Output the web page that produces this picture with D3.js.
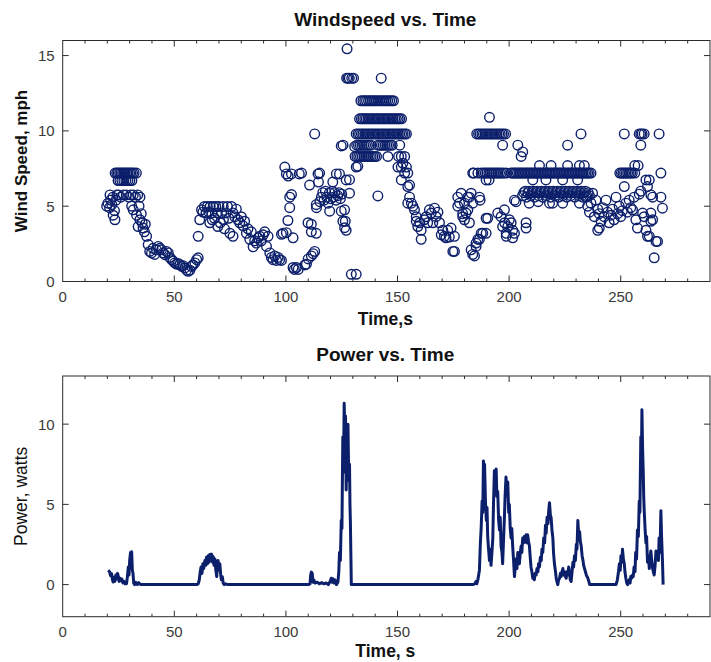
<!DOCTYPE html>
<html>
<head>
<meta charset="utf-8">
<script src="https://cdn.jsdelivr.net/npm/d3@7"></script>
<style>
  body { margin: 0; background: #fff; }
  svg { display: block; font-family: "Liberation Sans", Arial, sans-serif; }
</style>
</head>
<body>
<svg class="windpower" width="711" height="662"></svg>
<script>
// wind speed samples: [time s, speed mph]
const windSamples = [
  [19.7,5.0],[20.3,5.2],[21.0,4.9],[21.5,5.4],[22.0,5.1],[22.6,4.4],[23.2,4.7],[23.4,4.1],[23.9,5.4],[24.3,5.75],
  [23.5,7.2],[24.2,7.2],[24.8,7.2],[25.5,7.2],[26.1,7.2],[26.8,7.2],[27.4,7.2],[28.0,7.2],[28.7,7.2],[29.3,7.2],[30.0,7.2],[30.6,7.2],[31.3,7.2],[32.0,7.2],[33.0,7.2],
  [24.8,6.7],[25.6,6.7],[26.5,6.7],[27.4,6.7],[28.3,6.7],[29.2,6.7],[30.1,6.7],[31.0,6.7],
  [21.2,5.75],[22.5,5.6],[25.0,5.75],[26.0,5.6],[27.2,5.75],[28.5,5.75],[29.6,5.6],[30.5,5.75],[31.6,5.75],[32.6,5.6],[33.6,5.75],[34.6,5.6],
  [30.9,5.0],[31.6,4.76],[33.1,4.4],[34.2,5.0],[34.6,4.1],[33.8,3.65],[35.2,4.5],[35.6,3.9],[36.0,3.55],[36.6,3.3],[37.0,3.8],[37.6,3.0],[38.3,2.45],[39.0,2.0],[39.8,1.9],[40.5,2.2],[41.2,1.8],
  [42.0,2.1],[42.8,2.33],[43.5,2.2],[44.3,2.1],[45.0,1.9],[45.8,1.78],[46.5,2.0],[47.3,1.9],[48.0,1.6],[48.8,1.45],[49.5,1.35],[50.2,1.23],[51.0,1.15],[51.8,1.2],[52.5,1.12],[53.3,1.0],[54.0,1.05],[54.7,0.9],[55.5,0.75],[56.2,0.68],[57.0,0.75],[57.7,1.0],[58.4,1.1],[59.2,1.23],[60.0,1.45],[60.7,1.57],
  [60.7,3.0],[61.4,4.1],[62.2,4.76],[62.8,4.6],[63.5,4.98],[64.2,4.55],[64.8,4.98],[65.5,4.6],[66.1,4.98],[66.8,4.55],[67.4,4.98],[68.0,4.2],[68.6,4.98],[69.3,4.55],[70.0,4.98],[70.6,3.9],[71.2,4.55],[71.9,4.98],[72.5,3.5],[73.1,4.55],[73.8,4.98],[74.4,4.2],[74.9,3.2],[75.6,4.98],[76.3,4.55],[76.3,3.0],[65.9,3.9],[67.0,4.1],[69.5,3.65],[72.0,4.1],
  [77.1,4.3],[77.8,4.8],[78.5,4.1],[79.3,3.9],[80.0,4.3],[80.8,3.7],[81.5,4.0],[82.3,3.2],[83.0,3.5],[83.8,2.8],[84.5,3.3],[85.3,2.3],[86.0,2.7],[86.8,2.55],[87.5,2.9],[88.3,3.0],[89.0,2.7],[89.8,3.1],[90.5,3.3],[91.3,2.33],[92.0,3.0],[92.8,1.9],[93.5,1.6],[94.2,1.45],[95.0,1.7],[95.8,1.4],[96.5,1.6],[97.2,1.45],[98.0,1.4],
  [98.0,3.13],[98.7,3.2],[99.5,7.6],[100.2,7.14],[101.0,7.0],[102.5,7.14],[106.0,7.14],[100.2,3.24],[100.9,4.05],[101.7,4.9],[101.7,5.6],[102.5,5.77],[103.2,2.9],[103.2,0.93],[103.8,0.8],[104.7,0.93],[105.5,0.8],[107.0,7.2],[108.5,1.1],[109.2,1.15],[110.0,1.5],[110.6,6.4],[109.9,3.9],[111.4,3.8],[111.4,1.7],[111.4,3.3],[112.2,1.85],[112.9,2.0],[112.9,9.8],[113.6,3.2],[113.6,5.1],[113.7,4.9],
  [114.4,7.14],[115.1,7.2],[114.6,6.6],[115.2,5.3],[115.9,5.6],[116.5,5.9],[117.1,5.4],[117.7,6.0],[118.3,5.6],[118.9,5.2],[119.5,5.9],[119.6,4.67],[120.1,5.5],[120.7,6.0],[121.3,5.6],[121.0,6.6],[121.9,5.9],[122.5,5.4],[122.6,7.14],[123.2,5.7],[123.8,5.9],[124.0,7.14],[124.4,5.5],[125.0,5.8],[124.8,4.67],[124.8,9.0],[125.5,4.0],[125.6,9.05],[126.3,3.57],[126.3,4.76],[127.0,6.74],[127.0,3.4],[126.6,4.0],[128.5,5.86],[128.5,6.76],
  [127.4,15.45],[127.2,13.5],[127.8,13.5],[128.4,13.5],[129.5,13.5],[130.3,13.5],[129.3,0.48],[131.5,0.48],[142.7,13.5],
  [133.6,12.0],[134.5,12.0],[135.3,12.0],[136.1,12.0],[137.0,12.0],[137.8,12.0],[138.6,12.0],[139.4,12.0],[140.3,12.0],[141.2,12.0],[142.1,12.0],[143.0,12.0],[143.9,12.0],[144.8,12.0],[145.6,12.0],[146.5,12.0],[147.4,12.0],[148.2,12.0],
  [133.0,10.8],[133.8,10.8],[134.5,10.8],[135.3,10.8],[136.0,10.8],[136.8,10.8],[137.5,10.8],[138.3,10.8],[139.0,10.8],[139.8,10.8],[140.5,10.8],[141.3,10.8],[142.0,10.8],[142.8,10.8],[143.5,10.8],[144.3,10.8],[145.0,10.8],[145.8,10.8],[146.5,10.8],[147.3,10.8],[148.0,10.8],[148.8,10.8],[149.5,10.8],[150.3,10.8],[151.0,10.8],[151.8,10.8],
  [131.5,9.8],[132.3,9.8],[133.0,9.8],[133.8,9.8],[134.5,9.8],[135.3,9.8],[136.0,9.8],[136.8,9.8],[137.5,9.8],[138.3,9.8],[139.0,9.8],[139.8,9.8],[140.5,9.8],[141.3,9.8],[142.0,9.8],[142.8,9.8],[143.5,9.8],[144.3,9.8],[145.0,9.8],[145.8,9.8],[146.5,9.8],[147.3,9.8],[148.0,9.8],[148.8,9.8],[149.5,9.8],[150.3,9.8],[151.0,9.8],[151.8,9.8],[152.5,9.8],[153.3,9.8],[154.0,9.8],
  [130.8,8.95],[131.7,9.05],[132.5,9.05],[133.3,9.05],[134.1,9.05],[134.9,9.05],[135.7,9.05],[136.5,9.05],[137.3,9.05],[138.1,9.05],[141.2,9.05],[142.0,9.05],[142.8,9.05],[143.6,9.05],[144.4,9.05],[145.2,9.05],[146.0,9.05],[146.8,9.05],[147.6,9.05],[151.0,9.05],
  [131.0,8.3],[131.8,8.3],[132.6,8.3],[133.4,8.3],[134.2,8.3],[135.0,8.3],[135.8,8.3],[136.6,8.3],[137.4,8.3],[138.2,8.3],[139.0,8.3],[139.8,8.3],[140.6,8.3],[145.7,8.3],[150.5,8.3],[151.7,8.3],[153.2,8.3],
  [131.5,7.6],[132.2,7.65],[150.2,7.6],[151.7,7.6],[154.0,7.6],[141.2,5.68],
  [152.4,7.85],[153.2,7.2],[154.6,7.2],[151.7,6.74],[154.6,6.3],[155.4,6.4],[155.4,5.6],[154.6,5.2],[156.2,5.2],[156.9,5.0],[157.6,4.76],[158.4,4.3],[158.4,4.0],[159.1,3.65],[160.0,3.9],[160.6,3.4],[160.6,2.8],
  [162.0,4.1],[162.9,4.3],[163.5,3.9],[164.3,4.76],[165.1,4.54],[165.8,3.9],[166.6,4.87],[167.3,4.3],[168.1,4.6],[168.8,3.9],[169.6,3.1],[170.3,3.4],[171.0,3.0],[171.7,2.9],[172.5,3.4],[173.2,2.95],[174.0,3.55],[174.8,2.0],[175.5,3.0],[175.5,2.0],
  [177.0,5.0],[177.0,5.6],[177.8,5.2],[178.5,5.86],[179.2,4.5],[179.2,4.3],[180.0,5.2],[180.0,4.1],[180.7,4.54],[181.5,5.6],[181.5,4.76],[182.2,5.6],[182.2,3.9],[183.0,5.86],[183.7,5.2],[183.7,7.2],[183.0,2.1],[183.7,1.8],[184.5,1.7],[185.2,2.55],[185.2,2.33],[186.0,2.8],[186.7,2.8],[186.7,5.6],[187.0,5.4],[187.5,3.2],[188.2,3.2],[189.7,4.2],[189.7,3.2],[190.4,4.2],
  [185.5,9.8],[186.3,9.8],[187.0,9.8],[187.8,9.8],[188.5,9.8],[189.3,9.8],[190.0,9.8],[190.8,9.8],[191.5,9.8],[192.3,9.8],[193.0,9.8],[193.8,9.8],[194.5,9.8],[195.3,9.8],[196.0,9.8],[196.8,9.8],[197.5,9.8],[198.4,9.8],[191.2,10.9],[197.1,9.05],
  [184.2,7.2],[186.0,7.2],[187.5,7.2],[188.5,7.2],[189.3,7.2],[190.1,7.2],[190.9,7.2],[191.7,7.2],[192.5,7.2],[193.3,7.2],[194.1,7.2],[194.9,7.2],[195.7,7.2],[196.5,7.2],[197.5,7.2],[198.7,7.2],[189.7,6.74],[191.0,6.74],
  [194.9,4.54],[196.4,4.3],[197.9,4.76],[197.1,3.65],[198.0,3.9],[198.7,3.2],[198.7,3.0],[199.4,3.65],[200.1,4.1],[200.9,3.9],[201.6,3.4],[201.6,2.9],[202.4,3.2],[203.1,5.3],[202.4,5.4],[203.9,9.05],[205.4,8.3],[206.1,8.6],[207.6,3.55],[207.6,3.9],
  [200.9,7.2],[201.6,7.2],[202.3,7.2],[203.0,7.2],[203.7,7.2],[204.4,7.2],[205.1,7.2],[205.8,7.2],[206.5,7.2],[207.2,7.2],[207.9,7.2],[208.6,7.2],[209.3,7.2],[210.0,7.2],[210.7,7.2],[211.4,7.2],[212.1,7.2],[212.8,7.2],[213.5,7.2],[214.2,7.2],[214.9,7.2],[215.6,7.2],[216.3,7.2],[217.0,7.2],[217.7,7.2],[218.4,7.2],[219.1,7.2],[219.8,7.2],[220.5,7.2],[221.2,7.2],[221.9,7.2],[222.6,7.2],[223.3,7.2],[224.0,7.2],[224.7,7.2],[225.4,7.2],[226.1,7.2],[226.8,7.2],[227.5,7.2],[228.2,7.2],[228.9,7.2],[229.6,7.2],[230.3,7.2],[231.0,7.2],[231.7,7.2],[232.4,7.2],[233.1,7.2],[233.8,7.2],[234.5,7.2],[235.2,7.2],[235.9,7.2],[236.7,7.2],
  [213.6,7.7],[218.8,7.7],[226.2,7.7],[231.5,7.7],[233.7,7.7],[226.2,9.05],[232.2,9.8],
  [210.6,6.74],[216.5,6.74],[224.0,6.74],[230.7,6.74],
  [206.0,5.7],[206.6,5.9],[207.2,6.0],[207.8,5.6],[208.4,5.9],[209.0,6.0],[209.6,5.7],[210.2,5.9],[210.8,6.0],[211.4,5.6],[212.0,5.9],[212.6,6.0],[213.2,5.7],[213.8,5.9],[214.4,6.0],[215.0,5.6],[215.6,5.9],[216.2,6.0],[216.8,5.7],[217.4,5.9],[218.0,6.0],[218.6,5.6],[219.2,5.9],[219.8,6.0],[220.4,5.7],[221.0,5.9],[221.6,6.0],[222.2,5.6],[222.8,5.9],[223.4,6.0],[224.0,5.7],[224.6,5.9],[225.2,6.0],[225.8,5.6],[226.4,5.9],[227.0,6.0],[227.6,5.7],[228.2,5.9],[228.8,6.0],[229.4,5.6],[230.0,5.9],[230.6,6.0],[231.2,5.7],[231.8,5.9],[232.4,6.0],[233.0,5.6],[233.6,5.9],[234.2,6.0],[234.8,5.7],[235.4,5.9],[236.0,5.7],
  [209.0,5.2],[213.0,5.3],[219.5,5.2],[224.0,5.2],[231.5,5.2],[218.1,5.2],
  [234.4,5.6],[235.2,5.0],[236.0,4.6],[236.7,5.2],[237.4,5.86],[238.2,4.3],[238.9,5.4],[239.7,3.4],[239.7,4.8],[240.4,3.55],[240.4,4.5],[241.2,4.0],[241.9,4.9],[242.6,4.3],[243.4,5.4],[244.1,4.6],[244.8,3.9],[245.6,4.4],[246.3,4.8],[247.0,4.1],[247.9,5.6],[248.6,4.5],[249.3,5.0],[250.0,4.3],[250.8,4.7],[251.6,6.3],[252.3,5.2],[253.0,4.6],[253.8,5.4],[254.5,4.9],[255.3,4.76],[256.0,5.6],
  [249.6,7.2],[250.3,7.2],[251.0,7.2],[251.7,7.2],[252.4,7.2],[253.1,7.2],[253.8,7.2],[254.5,7.2],[255.2,7.2],[256.3,7.2],[256.3,7.7],[257.8,7.7],
  [251.6,9.8],[258.3,9.8],[259.0,9.8],[259.6,9.8],[260.5,9.8],[267.2,9.8],[259.0,9.05],
  [256.8,4.1],[257.5,3.55],[258.3,5.8],[259.0,6.0],[259.8,4.54],[260.5,4.3],[261.3,6.74],[261.3,3.4],[262.0,6.3],[262.0,3.0],[262.8,6.74],[262.8,3.0],[263.5,4.54],[263.5,5.75],[263.5,4.0],[264.3,4.1],[264.3,5.6],[265.0,1.57],[265.8,2.66],[266.5,2.66],[268.0,5.6],[268.0,7.2],[268.7,4.87]
];

// generator power: [time s, watts]
const powerSamples = [
  [20.4,0.89],[21.0,0.8],[21.5,0.55],[21.9,0.68],[22.3,0.3],[22.6,0.16],[23.0,0.45],[23.4,0.2],[23.8,0.6],[24.2,0.35],[24.6,0.7],[24.9,0.5],[25.3,0.2],[25.7,0.4],[26.1,0.25],[26.5,0.35],[27.0,0.1],[27.5,0.2],[28.0,0.05],[28.6,0.06],
  [29.0,0.5],[29.4,1.1],[29.7,0.6],[30.0,1.5],[30.4,2.0],[30.7,1.2],[30.9,2.05],[31.2,0.9],[31.5,0.7],[31.8,0.1],[32.2,0.0],[32.6,0.15],[33.0,0.1],[33.5,0.0],[34.0,0.12],[34.5,0.05],[35.0,0.0],
  [40,0],[45,0],[50,0],[55,0],[60,0],
  [60.7,0.05],[61.2,0.3],[61.6,0.8],[62.0,1.1],[62.4,0.7],[62.8,1.3],[63.2,1.0],[63.7,1.5],[64.1,1.2],[64.4,1.7],[64.8,1.3],[65.2,1.8],[65.6,1.4],[65.9,1.88],[66.3,1.5],[66.7,1.9],[67.1,1.4],[67.4,1.75],[67.8,1.2],[68.2,1.6],[68.6,0.9],[69.0,0.5],[69.3,1.2],[69.6,1.5],[70.0,0.9],[70.4,1.3],[70.8,0.6],[71.1,0.3],[71.5,0.5],[71.9,0.1],[72.3,0.0],[73,0.05],[74,0.0],
  [80,0],[90,0],[100,0],[110,0],
  [110.8,0.05],[111.1,0.6],[111.4,0.78],[111.8,0.7],[112.1,0.15],[112.5,0.3],[113,0.1],[114,0.15],[115,0.05],[116,0.12],[117,0.05],[118,0.1],[119,0.0],[119.8,0.2],[120.3,0.4],[120.7,0.15],[121.0,0.37],[121.5,0.1],[122.0,0.3],[122.6,0.0],[123.3,0.15],
  [123.7,0.8],[124.0,2.0],[124.4,1.5],[124.8,4.0],[125.1,3.5],[125.5,9.2],[125.8,7.0],[126.1,11.3],[126.4,9.5],[126.7,10.5],[127.0,5.9],[127.3,8.5],[127.6,6.5],[127.8,10.0],[128.1,7.0],[128.5,7.5],[128.7,5.0],[128.9,3.8],[129.3,0.0],
  [140,0],[150,0],[160,0],[170,0],[180,0],[184,0],
  [184.6,0.06],[185.2,0.2],[185.5,0.05],[186.0,0.3],[186.7,0.9],[187.1,2.5],[187.5,3.6],[187.9,5.2],[188.2,4.5],[188.5,7.7],[188.8,6.5],[189.0,7.5],[189.4,5.2],[189.8,4.0],[190.1,4.8],[190.4,3.0],[190.8,2.2],[191.2,1.5],[191.5,2.2],[191.9,1.2],[192.3,2.0],[192.7,2.9],
  [193.0,5.0],[193.4,7.1],[193.8,6.0],[194.2,7.2],[194.5,5.5],[194.9,5.8],[195.3,4.0],[195.7,3.4],[196.0,4.2],[196.4,2.4],[196.8,2.0],[197.1,1.3],[197.5,2.8],[197.9,4.2],[198.2,5.5],[198.6,6.7],[199.0,5.8],[199.4,6.4],[199.8,4.5],[200.1,5.0],[200.5,3.5],[200.9,2.9],[201.2,3.5],[201.6,2.4],[202.0,1.5],[202.4,0.5],[202.8,1.2],[203.1,1.6],[203.5,1.0],[203.9,2.0],[204.2,1.6],[204.6,1.3],[205.0,2.0],[205.4,2.4],[205.7,2.0],[206.1,2.9],[206.5,2.6],[206.8,3.0],[207.2,2.7],[207.6,3.1],[207.9,2.6],[208.3,3.1],[208.7,2.7],[209.1,2.4],[209.4,1.8],[209.8,1.1],[210.2,0.8],[210.6,0.4],[210.9,0.6],[211.3,0.3],[211.7,0.7],[212.1,0.6],[212.5,1.0],[212.9,0.8],[213.2,1.3],[213.6,1.1],[214.0,1.7],[214.4,1.5],[214.7,2.2],[215.1,2.0],[215.5,2.9],[215.9,2.6],[216.3,3.7],[216.6,3.2],[217.0,4.2],[217.4,3.8],[217.8,4.7],[218.1,5.1],[218.5,4.3],[218.8,4.2],[219.2,3.4],[219.6,2.9],[219.9,2.0],[220.3,1.3],[220.7,0.9],[221.1,0.4],[221.4,0.2],[221.8,0.0],
  [222.2,0.3],[222.6,0.4],[223.0,0.7],[223.3,0.5],[223.7,0.8],[224.1,1.0],[224.4,0.6],[224.8,0.8],[225.2,0.5],[225.6,0.4],[225.9,0.8],[226.3,0.6],[226.7,1.1],[227.1,0.7],[227.4,0.3],[227.8,0.2],[228.2,0.8],[228.6,1.4],[228.9,1.1],[229.3,1.8],[229.7,1.5],[230.1,2.5],[230.4,2.2],[230.8,4.0],[231.2,3.0],[231.6,3.3],[231.9,2.7],[232.3,2.4],[232.7,1.8],[233.1,1.5],[233.4,1.2],[233.8,1.0],[234.2,0.8],[234.6,0.6],[234.9,0.5],[235.3,0.4],[235.7,0.2],[236.1,0.0],
  [240,0],[245,0],[247.9,0.0],
  [248.5,0.3],[249.0,0.8],[249.4,1.3],[249.8,0.9],[250.1,1.8],[250.5,1.4],[250.8,2.2],[251.2,1.6],[251.6,1.3],[251.9,0.8],[252.3,0.4],[252.7,0.1],[253.1,0.0],[253.5,0.2],[253.8,0.3],[254.2,0.1],[254.5,0.5],[254.9,0.4],[255.3,0.6],[255.6,0.5],[256.0,1.1],[256.4,0.8],[256.7,2.0],[257.1,1.6],[257.5,3.4],[257.9,3.0],
  [258.3,5.2],[258.6,4.5],[259.0,9.2],[259.3,8.0],[259.5,10.9],[259.8,8.5],[260.1,7.0],[260.3,5.5],[260.5,4.7],[260.9,3.5],[261.3,2.6],[261.6,3.0],[262.0,1.4],[262.4,1.8],[262.8,1.0],[263.1,1.6],[263.5,2.1],[263.9,1.5],[264.3,1.0],[264.6,0.8],[265.0,0.6],[265.4,1.2],[265.8,2.1],[266.1,1.6],[266.5,1.9],[266.9,1.5],[267.2,2.9],[267.6,2.0],[268.0,4.6],[268.3,3.0],[268.7,1.5],[269.0,0.0]
];

const timeTicks = [0, 50, 100, 150, 200, 250];
const windTicks = [0, 5, 10, 15];
const powerTicks = [0, 5, 10];

const navy = "#0c1f6b";
let svg = d3.select("svg.windpower");

// draws a boxed panel (frame, inward ticks, labels) and returns its scales
function drawPanel(box, xDomain, yDomain, yTicks, titleText, xLabel, yLabel, yBold, xLabelGap) {
    let x = d3.scaleLinear().domain(xDomain).range([box.left, box.right]);
    let y = d3.scaleLinear().domain(yDomain).range([box.bottom, box.top]);
    let g = svg.append("g");

    g.append("rect")
        .attr("x", box.left).attr("y", box.top)
        .attr("width", box.right - box.left).attr("height", box.bottom - box.top)
        .attr("fill", "none").attr("stroke", "#2b2b2b").attr("stroke-width", 1);

    // ticks every 10 s, long ones on labelled values
    let minor = d3.range(xDomain[0] + 10, xDomain[1], 10);
    minor.forEach(function(t) {
        let len = t % 50 === 0 ? 6 : 3;
        g.append("line").attr("x1", x(t)).attr("x2", x(t))
            .attr("y1", box.bottom).attr("y2", box.bottom - len)
            .attr("stroke", "#2b2b2b");
        g.append("line").attr("x1", x(t)).attr("x2", x(t))
            .attr("y1", box.top).attr("y2", box.top + len)
            .attr("stroke", "#2b2b2b");
    });
    yTicks.forEach(function(v) {
        g.append("line").attr("x1", box.left).attr("x2", box.left + 6)
            .attr("y1", y(v)).attr("y2", y(v)).attr("stroke", "#2b2b2b");
        g.append("line").attr("x1", box.right - 6).attr("x2", box.right)
            .attr("y1", y(v)).attr("y2", y(v)).attr("stroke", "#2b2b2b");
    });

    g.selectAll(".xlab").data(timeTicks).enter().append("text")
        .attr("x", function(d) { return x(d); })
        .attr("y", box.bottom + 20)
        .attr("text-anchor", "middle")
        .style("font-size", "15px").style("fill", "#3a3a3a")
        .text(function(d) { return d; });
    g.selectAll(".ylab").data(yTicks).enter().append("text")
        .attr("x", box.left - 8)
        .attr("y", function(d) { return y(d); })
        .attr("dy", "0.36em")
        .attr("text-anchor", "end")
        .style("font-size", "15px").style("fill", "#3a3a3a")
        .text(function(d) { return d; });

    let cx = (box.left + box.right) / 2 - 1;
    svg.append("text").attr("x", cx).attr("y", box.top - 15)
        .attr("text-anchor", "middle")
        .style("font-size", "19px").style("font-weight", "bold").style("fill", "#111")
        .text(titleText);
    svg.append("text").attr("x", cx).attr("y", box.bottom + xLabelGap)
        .attr("text-anchor", "middle")
        .style("font-size", "17.5px").style("font-weight", "bold").style("fill", "#111")
        .text(xLabel);
    svg.append("text")
        .attr("transform", "translate(27," + ((box.top + box.bottom) / 2) + ") rotate(-90)")
        .attr("text-anchor", "middle")
        .style("font-size", yBold ? "17px" : "17.5px")
        .style("font-weight", yBold ? "bold" : "normal").style("fill", "#111")
        .text(yLabel);

    return {x: x, y: y};
}

// top panel: scatter of wind speed
let windPanel = drawPanel({left: 62.7, right: 710, top: 40.5, bottom: 281.5},
    [0, 290], [0, 16], windTicks, "Windspeed vs. Time", "Time,s", "Wind Speed, mph", true, 43);

svg.append("g").selectAll("circle")
    .data(windSamples)
    .enter()
    .append("circle")
    .attr("cx", function(d) { return windPanel.x(d[0]); })
    .attr("cy", function(d) { return windPanel.y(d[1]); })
    .attr("r", 4.8)
    .attr("fill", "none")
    .attr("stroke", navy)
    .attr("stroke-width", 1.4);

// bottom panel: power trace
let powerPanel = drawPanel({left: 62.7, right: 710, top: 376, bottom: 616.7},
    [0, 290], [-2, 13], powerTicks, "Power vs. Time", "Time, s", "Power, watts", false, 40);

let powerLine = d3.line()
    .x(function(d) { return powerPanel.x(d[0]); })
    .y(function(d) { return powerPanel.y(d[1]); });

svg.append("path")
    .datum(powerSamples)
    .attr("d", powerLine)
    .attr("fill", "none")
    .attr("stroke", navy)
    .attr("stroke-width", 3)
    .attr("stroke-linejoin", "round");
</script>
</body>
</html>
